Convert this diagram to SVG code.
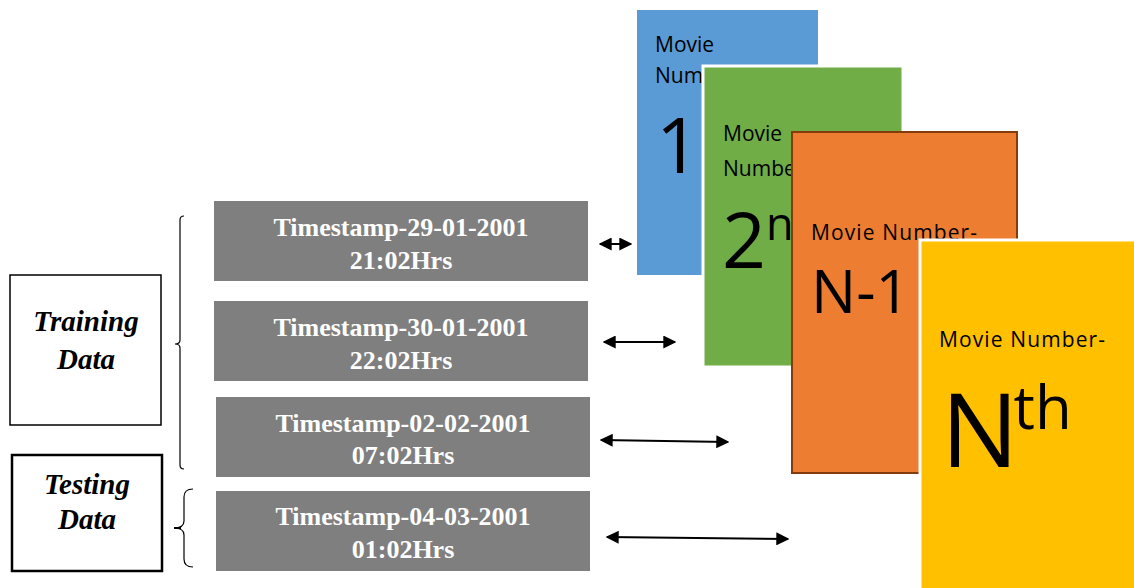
<svg xmlns="http://www.w3.org/2000/svg" width="1134" height="588" viewBox="0 0 1134 588">
<style>
.ts{fill:#7f7f7f}
.tt{font-family:"Liberation Serif",serif;font-weight:bold;font-size:26px;fill:#ffffff;text-anchor:middle}
.lbl{font-family:"Liberation Serif",serif;font-weight:bold;font-style:italic;font-size:29px;fill:#000;text-anchor:middle}
.mv{font-family:"Open Sans","Noto Sans",sans-serif;font-size:21px;fill:#000}
.big{font-family:"Open Sans","Noto Sans",sans-serif;fill:#000}
.br{fill:none;stroke:#000;stroke-width:1.2}
.ar{stroke:#000;stroke-width:2;fill:none;marker-start:url(#ah);marker-end:url(#ah)}
</style>
<defs>
<marker id="ah" viewBox="0 0 10 10" refX="9" refY="5" markerWidth="6.5" markerHeight="6.5" orient="auto-start-reverse" markerUnits="strokeWidth">
<path d="M0,0 L10,5 L0,10 z" fill="#000"/>
</marker>
</defs>
<rect width="1134" height="588" fill="#fff"/>

<g id="training-data">
<rect x="10" y="275" width="151" height="150" fill="#fff" stroke="#000" stroke-width="1.5"/>
<text class="lbl" x="86" y="331">Training</text>
<text class="lbl" x="86" y="369">Data</text>
</g>
<g id="testing-data">
<rect x="12" y="455" width="150" height="116" fill="#fff" stroke="#000" stroke-width="2.5"/>
<text class="lbl" x="87" y="494">Testing</text>
<text class="lbl" x="87" y="529">Data</text>
</g>

<g id="braces">
<path class="br" d="M184,216 Q180,216 180,220 L180,340 Q180,344 175,344 Q180,344 180,348 L180,465 Q180,469 184,469"/>
<path class="br" d="M193,489 Q184,489 184,497 L184,521 Q184,528 174,528 Q184,528 184,535 L184,559 Q184,567 193,567"/>
<line x1="174" y1="528" x2="181" y2="528" stroke="#000" stroke-width="2"/>
</g>

<g id="ts1">
<rect class="ts" x="214" y="201" width="374" height="80"/>
<text class="tt" x="401" y="236">Timestamp-29-01-2001</text>
<text class="tt" x="401" y="269">21:02Hrs</text>
</g>
<g id="ts2">
<rect class="ts" x="214" y="301" width="374" height="80"/>
<text class="tt" x="401" y="336">Timestamp-30-01-2001</text>
<text class="tt" x="401" y="369">22:02Hrs</text>
</g>
<g id="ts3">
<rect class="ts" x="216" y="397" width="374" height="80"/>
<text class="tt" x="403" y="432">Timestamp-02-02-2001</text>
<text class="tt" x="403" y="464">07:02Hrs</text>
</g>
<g id="ts4">
<rect class="ts" x="216" y="491" width="374" height="80"/>
<text class="tt" x="403" y="525">Timestamp-04-03-2001</text>
<text class="tt" x="403" y="558">01:02Hrs</text>
</g>

<g id="movie1">
<rect x="637" y="10" width="181" height="265" fill="#5b9bd5"/>
<text class="mv" x="655" y="52">Movie</text>
<text class="mv" x="655" y="83">Number-</text>
<text class="big" x="656" y="173" font-size="77">1</text>
</g>
<g id="movie2">
<rect x="703" y="66" width="200" height="301" fill="#70ad47" stroke="#fff" stroke-width="3"/>
<text class="mv" x="723" y="141">Movie</text>
<text class="mv" x="723" y="176">Number-</text>
<text class="big" x="722" y="268" font-size="77">2<tspan font-size="45" dy="-28">nd</tspan></text>
</g>
<g id="movie3">
<rect x="792" y="132" width="225" height="341" fill="#ed7d31" stroke="#843c0c" stroke-width="2"/>
<text class="mv" x="811" y="240" textLength="166" lengthAdjust="spacing">Movie Number-</text>
<text class="big" x="811" y="313" font-size="60">N-1</text>
</g>
<g id="movie4">
<rect x="920" y="240" width="220" height="352" fill="#ffc000" stroke="#fff" stroke-width="3"/>
<text class="mv" x="939" y="347" textLength="166" lengthAdjust="spacing">Movie Number-</text>
<text class="big" x="941" y="467" font-size="103">N<tspan font-size="60" dx="-5" dy="-38">th</tspan></text>
</g>

<g id="connectors">
<line class="ar" x1="600" y1="244" x2="631" y2="244"/>
<line class="ar" x1="604" y1="342" x2="675" y2="342"/>
<line class="ar" x1="601" y1="440" x2="728" y2="442"/>
<line class="ar" x1="607" y1="537" x2="788" y2="539"/>
</g>
</svg>
